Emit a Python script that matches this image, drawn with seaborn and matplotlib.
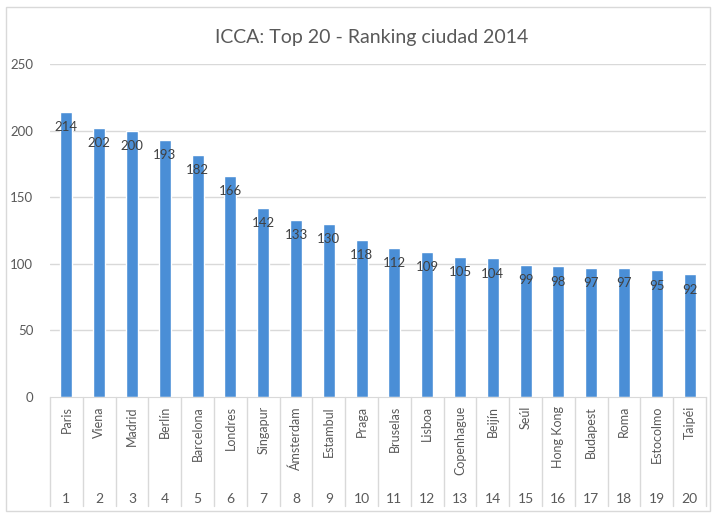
import matplotlib
matplotlib.use("Agg")
import matplotlib.pyplot as plt
import matplotlib.transforms as mtransforms
from matplotlib.patches import Rectangle
import pandas as pd
import seaborn as sns

# datos del ranking ICCA 2014
ciudades = ["Paris", "Viena", "Madrid", "Berlín", "Barcelona", "Londres", "Singapur",
            "Ámsterdam", "Estambul", "Praga", "Bruselas", "Lisboa", "Copenhague",
            "Beijín", "Seúl", "Hong Kong", "Budapest", "Roma", "Estocolmo", "Taipéi"]
reuniones = [214, 202, 200, 193, 182, 166, 142, 133, 130, 118, 112, 109, 105,
             104, 99, 98, 97, 97, 95, 92]
puestos = list(range(1, 21))
titulo = "ICCA: Top 20 - Ranking ciudad 2014"

df = pd.DataFrame({"ciudad": ciudades, "reuniones": reuniones, "puesto": puestos})

sns.set_style("white")
plt.rcParams["font.family"] = ["Lato", "DejaVu Sans"]

W, H = 713, 517
fig = plt.figure(figsize=(W / 100, H / 100), dpi=100)
ax = fig.add_axes([50 / W, 1 - 397 / H, 656 / W, 333 / H])

gris_txt = "#595959"
gris_lin = "#d9d9d9"

ax.set_axisbelow(True)
for v in [50, 100, 150, 200, 250]:
    ax.axhline(v, color=gris_lin, lw=1, zorder=0)

sns.barplot(data=df, x="ciudad", y="reuniones", color="#4a8ed6", width=0.37,
            saturation=1, ax=ax, zorder=2)

ax.set_ylim(0, 250)
ax.set_xlim(-0.5, len(ciudades) - 0.5)
ax.set_yticks([0, 50, 100, 150, 200, 250])
ax.tick_params(axis="y", length=0, labelsize=9.5, labelcolor=gris_txt, pad=12)
ax.set_xticks([])
ax.set_xlabel("")
ax.set_ylabel("")
for s in ["top", "right", "left"]:
    ax.spines[s].set_visible(False)
ax.spines["bottom"].set_color(gris_lin)

# etiquetas de valores
for i, v in enumerate(df["reuniones"]):
    ax.annotate(str(v), (i, v), xytext=(0, -11), textcoords="offset points",
                ha="center", va="center", fontsize=9.5, color="#404040", zorder=3)

# tabla del eje de categorias
trans = mtransforms.blended_transform_factory(ax.transData, ax.transAxes)
y_bot = -(506 - 397) / 333
for k in range(len(ciudades) + 1):
    ax.plot([k - 0.5, k - 0.5], [0, y_bot], transform=trans, color=gris_lin,
            lw=1, clip_on=False)
y_nom = -(406 - 397) / 333
y_num = -(499 - 397) / 333
for i, (c, p) in enumerate(zip(df["ciudad"], df["puesto"])):
    ax.text(i, y_nom, c, transform=trans, rotation=90, ha="center", va="top",
            fontsize=9, color=gris_txt)
    ax.text(i, y_num, str(p), transform=trans, ha="center", va="center",
            fontsize=10, color=gris_txt)

fig.text(372 / W, 1 - 37 / H, titulo, ha="center", va="center", fontsize=14,
         color=gris_txt)

fig.patches.append(Rectangle((6 / W, 6 / H), 704 / W, 504 / H, transform=fig.transFigure,
                             fill=False, edgecolor=gris_lin, lw=1))

fig.savefig("out.png", dpi=100)
